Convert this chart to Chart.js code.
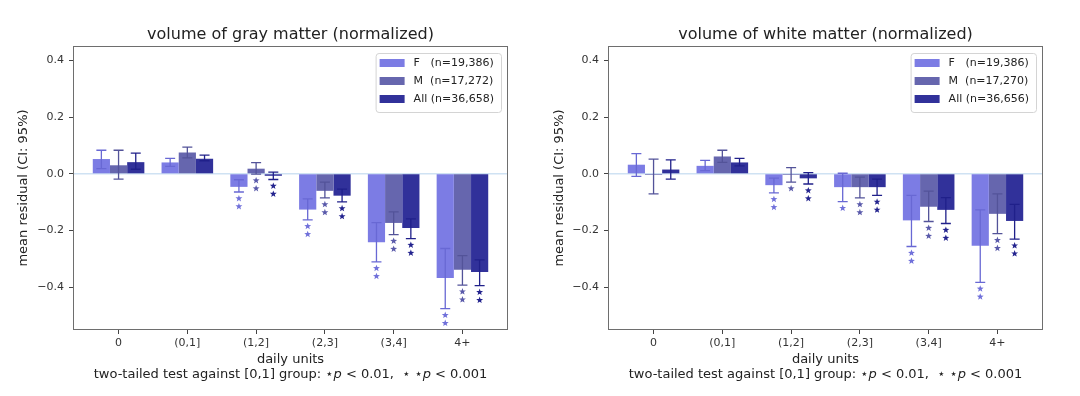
<!DOCTYPE html>
<html>
<head>
<meta charset="utf-8">
<script src="https://cdn.jsdelivr.net/npm/chart.js@4.4.0/dist/chart.umd.min.js"></script>
<style>
  body { margin: 0; background: #fff; }
  .wrap { display: flex; width: 1080px; height: 396px; }
  canvas { display: block; }
</style>
</head>
<body>
<div class="wrap">
  <canvas id="grayChart" width="540" height="396"></canvas>
  <canvas id="whiteChart" width="540" height="396"></canvas>
</div>
<script>
const categories = ['0', '(0,1]', '(1,2]', '(2,3]', '(3,4]', '4+'];
const yTicks = [-0.4, -0.2, 0, 0.2, 0.4];

// gray matter: F, M, All
const grayLabels = ['F   (n=19,386)', 'M  (n=17,272)', 'All (n=36,658)'];
const grayMeanF = [0.052, 0.040, -0.046, -0.126, -0.241, -0.367];
const grayLowF  = [0.018, 0.026, -0.064, -0.162, -0.310, -0.475];
const grayHighF = [0.083, 0.054, -0.021, -0.088, -0.172, -0.263];
const grayMeanM = [0.030, 0.075, 0.018, -0.060, -0.173, -0.338];
const grayLowM  = [-0.019, 0.056, -0.001, -0.085, -0.214, -0.392];
const grayHighM = [0.083, 0.094, 0.039, -0.029, -0.134, -0.288];
const grayMeanA = [0.041, 0.053, -0.007, -0.077, -0.191, -0.346];
const grayLowA  = [0.016, 0.046, -0.020, -0.099, -0.228, -0.394];
const grayHighA = [0.073, 0.066, 0.006, -0.054, -0.159, -0.303];
const grayStarsF = [0, 0, 2, 2, 2, 2];
const grayStarsM = [0, 0, 2, 2, 2, 2];
const grayStarsA = [0, 0, 2, 2, 2, 2];

// white matter: F, M, All
const whiteLabels = ['F   (n=19,386)', 'M  (n=17,270)', 'All (n=36,656)'];
const whiteMeanF = [0.032, 0.028, -0.040, -0.047, -0.164, -0.253];
const whiteLowF  = [-0.009, 0.011, -0.067, -0.098, -0.256, -0.382];
const whiteHighF = [0.071, 0.047, -0.015, 0.002, -0.076, -0.127];
const whiteMeanM = [-0.004, 0.061, -0.004, -0.047, -0.116, -0.141];
const whiteLowM  = [-0.071, 0.040, -0.029, -0.085, -0.168, -0.211];
const whiteHighM = [0.052, 0.083, 0.022, -0.012, -0.061, -0.071];
const whiteMeanA = [0.015, 0.040, -0.016, -0.047, -0.127, -0.166];
const whiteLowA  = [-0.019, 0.028, -0.036, -0.076, -0.175, -0.230];
const whiteHighA = [0.049, 0.054, 0.004, -0.019, -0.084, -0.108];
const whiteStarsF = [0, 0, 2, 1, 2, 2];
const whiteStarsM = [0, 0, 1, 2, 2, 2];
const whiteStarsA = [0, 0, 2, 2, 2, 2];

const barColors = ['#7c7ce4', '#6666ae', '#31319a'];
const errColors = ['#6868d4', '#535399', '#20208a'];
const starColors = ['#7070da', '#5a5aaa', '#23238e'];

Chart.defaults.font.family = 'DejaVu Sans';
Chart.defaults.color = '#222';

function drawStar(ctx, cx, cy, r) {
  ctx.beginPath();
  for (let k = 0; k < 10; k++) {
    const rr = k % 2 === 0 ? r : r * 0.42;
    const ang = -Math.PI / 2 + k * Math.PI / 5;
    const px = cx + rr * Math.cos(ang), py = cy + rr * Math.sin(ang);
    if (k === 0) ctx.moveTo(px, py); else ctx.lineTo(px, py);
  }
  ctx.closePath();
  ctx.fill();
}

function drawFootnote(ctx, cx, cy) {
  const parts = [
    ['two-tailed test against [0,1] group: \u22c6', false],
    ['p', true],
    [' < 0.01,  \u22c6 \u22c6', false],
    ['p', true],
    [' < 0.001', false]
  ];
  const fnt = it => (it ? 'italic ' : '') + '13px "DejaVu Sans"';
  let total = 0;
  parts.forEach(p => { ctx.font = fnt(p[1]); total += ctx.measureText(p[0]).width; });
  let x = cx - total / 2;
  ctx.fillStyle = '#222';
  ctx.textAlign = 'left';
  ctx.textBaseline = 'middle';
  parts.forEach(p => {
    ctx.font = fnt(p[1]);
    ctx.fillText(p[0], x, cy);
    x += ctx.measureText(p[0]).width;
  });
}

const decorPlugin = {
  id: 'decor',
  beforeDatasetsDraw(chart) {
    const { ctx, chartArea: a, scales: { y } } = chart;
    const y0 = y.getPixelForValue(0);
    ctx.save();
    ctx.strokeStyle = '#cfe2f3';
    ctx.lineWidth = 1.5;
    ctx.beginPath();
    ctx.moveTo(a.left, y0);
    ctx.lineTo(a.right, y0);
    ctx.stroke();
    ctx.restore();
  },
  afterDatasetsDraw(chart, args, opts) {
    const { ctx, scales: { y } } = chart;
    ctx.save();
    chart.data.datasets.forEach((ds, i) => {
      const meta = chart.getDatasetMeta(i);
      meta.data.forEach((bar, j) => {
        const yh = y.getPixelForValue(opts.highs[i][j]);
        const yl = y.getPixelForValue(opts.lows[i][j]);
        ctx.strokeStyle = errColors[i];
        ctx.lineWidth = 1.3;
        ctx.beginPath();
        ctx.moveTo(bar.x, yh); ctx.lineTo(bar.x, yl);
        ctx.moveTo(bar.x - 5, yh); ctx.lineTo(bar.x + 5, yh);
        ctx.moveTo(bar.x - 5, yl); ctx.lineTo(bar.x + 5, yl);
        ctx.stroke();
        ctx.fillStyle = starColors[i];
        for (let k = 0; k < opts.stars[i][j]; k++) {
          drawStar(ctx, bar.x, yl + 6.5 + k * 8, 3.6);
        }
      });
    });
    ctx.restore();
  },
  afterDraw(chart, args, opts) {
    const { ctx, chartArea: a } = chart;
    ctx.save();
    // frame
    ctx.strokeStyle = '#6e6e6e';
    ctx.lineWidth = 1;
    ctx.strokeRect(a.left + 0.5, a.top + 0.5, a.right - a.left - 1, a.bottom - a.top - 1);
    // title
    const cx = (a.left + a.right) / 2;
    ctx.fillStyle = '#222';
    ctx.font = '16px "DejaVu Sans"';
    ctx.textAlign = 'center';
    ctx.textBaseline = 'middle';
    ctx.fillText(opts.title, cx, 35);
    // legend
    ctx.font = '11px "DejaVu Sans"';
    const labels = chart.data.datasets.map(d => d.label);
    const tw = Math.max(...labels.map(l => ctx.measureText(l).width));
    const bw = tw + 38 + 7, bh = 59;
    const bx = a.right - 7 - bw, by = a.top + 7;
    ctx.fillStyle = 'rgba(255,255,255,0.85)';
    ctx.strokeStyle = '#d4d4d4';
    ctx.beginPath();
    ctx.roundRect(bx + 0.5, by + 0.5, bw, bh, 3);
    ctx.fill();
    ctx.stroke();
    labels.forEach((l, i) => {
      const ry = by + 10 + i * 18;
      ctx.fillStyle = barColors[i];
      ctx.fillRect(bx + 4, ry - 4, 25, 8);
      ctx.fillStyle = '#222';
      ctx.textAlign = 'left';
      ctx.fillText(l, bx + 38, ry);
    });
    // footnote
    drawFootnote(ctx, cx, 375);
    ctx.restore();
  }
};

function fmtY(v) {
  if (Math.abs(v) < 1e-9) return '0.0';
  return (v < 0 ? '\u2212' : '') + Math.abs(v).toFixed(1);
}

function makeChart(id, title, labels, means, lows, highs, stars, padRight, yWidth, yTitlePad) {
  return new Chart(document.getElementById(id), {
    type: 'bar',
    data: {
      datasets: labels.map((lab, i) => ({
        label: lab,
        data: means[i].map((v, j) => ({ x: j, y: v })),
        backgroundColor: barColors[i],
        borderWidth: 0,
        categoryPercentage: 0.75,
        barPercentage: 1.0
      }))
    },
    options: {
      responsive: false,
      animation: false,
      devicePixelRatio: 1,
      layout: { padding: { top: 46, right: padRight, bottom: 0, left: 0 } },
      plugins: {
        legend: { display: false },
        tooltip: { enabled: false },
        decor: { title, lows, highs, stars }
      },
      scales: {
        x: {
          type: 'linear',
          min: -0.6625,
          max: 5.6625,
          offset: false,
          afterBuildTicks: s => { s.ticks = categories.map((c, i) => ({ value: i })); },
          afterFit: s => { s.height = 66; },
          ticks: {
            callback: v => categories[v],
            font: { size: 11 },
            color: '#333',
            padding: 3,
            autoSkip: false,
            maxRotation: 0
          },
          grid: { display: true, offset: false, drawOnChartArea: false, drawTicks: true, tickLength: 4, color: '#444' },
          border: { display: false },
          title: { display: true, text: 'daily units', font: { size: 13 }, color: '#222', padding: { top: 0, bottom: 29 } }
        },
        y: {
          min: -0.55,
          max: 0.45,
          afterBuildTicks: s => { s.ticks = yTicks.map(v => ({ value: v })); },
          afterFit: s => { s.width = yWidth; },
          ticks: { callback: v => fmtY(v), font: { size: 11 }, color: '#333', padding: 5 },
          grid: { display: true, drawOnChartArea: false, drawTicks: true, tickLength: 4, color: '#444' },
          border: { display: false },
          title: { display: true, text: 'mean residual (CI: 95%)', font: { size: 13 }, color: '#222', padding: { top: yTitlePad, bottom: 0 } }
        }
      }
    },
    plugins: [decorPlugin]
  });
}

makeChart('grayChart', 'volume of gray matter (normalized)', grayLabels,
  [grayMeanF, grayMeanM, grayMeanA],
  [grayLowF, grayLowM, grayLowA],
  [grayHighF, grayHighM, grayHighA],
  [grayStarsF, grayStarsM, grayStarsA],
  32, 73, 16);

makeChart('whiteChart', 'volume of white matter (normalized)', whiteLabels,
  [whiteMeanF, whiteMeanM, whiteMeanA],
  [whiteLowF, whiteLowM, whiteLowA],
  [whiteHighF, whiteHighM, whiteHighA],
  [whiteStarsF, whiteStarsM, whiteStarsA],
  37, 68, 12);
</script>
</body>
</html>
